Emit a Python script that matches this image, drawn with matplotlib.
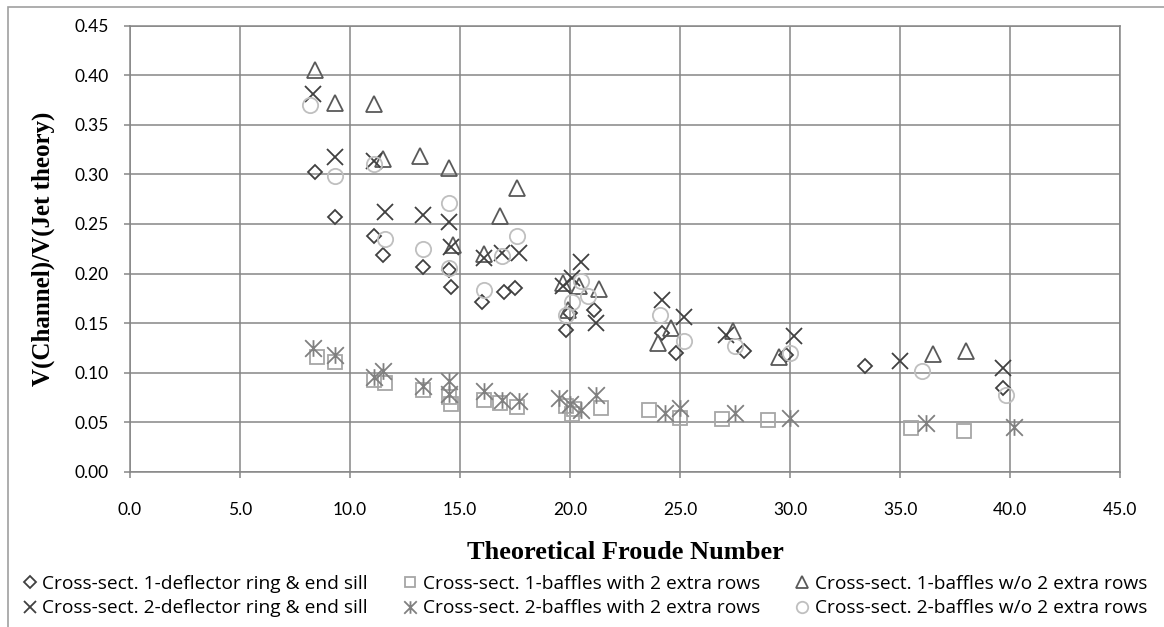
import matplotlib
matplotlib.use("Agg")
import matplotlib.pyplot as plt
from matplotlib.path import Path
from matplotlib.patches import Rectangle

# --------------------------------------------------
# Data
# --------------------------------------------------

cs1_deflector_x = [8.4, 9.3, 11.1, 11.5, 13.3, 14.5, 14.6, 16.0, 17.0, 17.5,
                   19.8, 20.0, 21.1, 24.2, 24.8, 27.9, 29.8, 33.4, 39.7]
cs1_deflector_y = [0.302, 0.257, 0.238, 0.219, 0.207, 0.204, 0.186, 0.171, 0.181, 0.185,
                   0.143, 0.160, 0.163, 0.140, 0.120, 0.122, 0.118, 0.107, 0.084]

cs1_with_x = [8.5, 9.3, 11.1, 11.6, 13.3, 14.5, 14.6, 16.1, 16.8, 17.6,
              19.8, 20.1, 20.2, 21.4, 23.6, 25.0, 26.9, 29.0, 35.5, 37.9]
cs1_with_y = [0.116, 0.111, 0.093, 0.090, 0.082, 0.075, 0.068, 0.072, 0.069, 0.065,
              0.066, 0.058, 0.063, 0.064, 0.062, 0.054, 0.053, 0.052, 0.044, 0.041]

cs1_without_x = [8.4, 9.3, 11.1, 11.5, 13.2, 14.5, 14.7, 16.1, 16.8, 17.6,
                 19.7, 20.4, 21.3, 19.9, 24.0, 24.6, 27.4, 29.5, 36.5, 38.0]
cs1_without_y = [0.405, 0.372, 0.371, 0.316, 0.319, 0.306, 0.229, 0.220, 0.258, 0.286,
                 0.190, 0.187, 0.184, 0.163, 0.130, 0.145, 0.142, 0.116, 0.119, 0.122]

cs2_deflector_x = [8.3, 9.3, 11.1, 11.6, 13.3, 14.5, 14.6, 16.1, 16.9, 17.7,
                   19.7, 20.1, 20.5, 21.2, 24.2, 25.2, 27.1, 30.2, 35.0, 39.7]
cs2_deflector_y = [0.381, 0.318, 0.314, 0.262, 0.259, 0.252, 0.227, 0.216, 0.221, 0.221,
                   0.187, 0.195, 0.212, 0.150, 0.173, 0.156, 0.138, 0.137, 0.112, 0.105]

cs2_with_x = [8.3, 9.3, 11.1, 11.5, 13.3, 14.5, 14.5, 16.1, 16.9, 17.7,
              19.5, 20.0, 20.5, 21.2, 24.3, 25.0, 27.5, 30.0, 36.2, 40.2]
cs2_with_y = [0.125, 0.118, 0.096, 0.102, 0.086, 0.092, 0.078, 0.081, 0.072, 0.071,
              0.074, 0.068, 0.062, 0.077, 0.059, 0.064, 0.059, 0.054, 0.049, 0.045]

cs2_without_x = [8.2, 9.3, 11.1, 11.6, 13.3, 14.5, 14.5, 16.1, 16.9, 17.6,
                 19.8, 20.1, 20.5, 20.8, 24.1, 25.2, 27.5, 30.0, 36.0, 39.8]
cs2_without_y = [0.370, 0.298, 0.311, 0.235, 0.225, 0.271, 0.206, 0.183, 0.218, 0.238,
                 0.158, 0.171, 0.192, 0.177, 0.158, 0.132, 0.127, 0.120, 0.102, 0.077]

x_ticks = [0, 5, 10, 15, 20, 25, 30, 35, 40, 45]
y_ticks = [0.00, 0.05, 0.10, 0.15, 0.20, 0.25, 0.30, 0.35, 0.40, 0.45]

labels = [
    "Cross-sect. 1-deflector ring & end sill",
    "Cross-sect. 1-baffles with 2 extra rows",
    "Cross-sect. 1-baffles w/o 2 extra rows",
    "Cross-sect. 2-deflector ring & end sill",
    "Cross-sect. 2-baffles with 2 extra rows",
    "Cross-sect. 2-baffles w/o 2 extra rows",
]

# Excel style "star" marker: an X with a vertical stroke
star = Path([(-1, -1), (1, 1), (-1, 1), (1, -1), (0, -1), (0, 1)],
            [Path.MOVETO, Path.LINETO, Path.MOVETO, Path.LINETO, Path.MOVETO, Path.LINETO])

# --------------------------------------------------
# Figure
# --------------------------------------------------

fig = plt.figure(figsize=(11.64, 6.27), dpi=100)
ax = fig.add_axes([130 / 1164, 1 - 471.7 / 627, 990 / 1164, 445.9 / 627])

common = dict(linestyle="none", markerfacecolor="none", markeredgewidth=1.3)

h1, = ax.plot(cs1_deflector_x, cs1_deflector_y, marker="D", markersize=7.5,
              markeredgecolor="#404040", label=labels[0], **common)
h2, = ax.plot(cs1_with_x, cs1_with_y, marker="s", markersize=10.5,
              markeredgecolor="#a6a6a6", label=labels[1], **common)
h3, = ax.plot(cs1_without_x, cs1_without_y, marker="^", markersize=11.5,
              markeredgecolor="#595959", label=labels[2], **common)
h4, = ax.plot(cs2_deflector_x, cs2_deflector_y, marker="x", markersize=12,
              markeredgecolor="#404040", label=labels[3], **common)
h5, = ax.plot(cs2_with_x, cs2_with_y, marker=star, markersize=12,
              markeredgecolor="#808080", label=labels[4], **common)
h6, = ax.plot(cs2_without_x, cs2_without_y, marker="o", markersize=11,
              markeredgecolor="#bfbfbf", label=labels[5], **common)

ax.set_xlim(0, 45)
ax.set_ylim(0, 0.45)
ax.set_xticks(x_ticks)
ax.set_xticklabels([f"{v:.1f}" for v in x_ticks])
ax.set_yticks(y_ticks)
ax.set_yticklabels([f"{v:.2f}" for v in y_ticks])

ax.grid(True, color="#868686", linewidth=1.1)
ax.set_axisbelow(True)
for s in ax.spines.values():
    s.set_color("#868686")
    s.set_linewidth(1.1)

ax.tick_params(axis="x", direction="out", length=4.5, width=1.1, color="#868686",
               pad=17, labelsize=12.5)
ax.tick_params(axis="y", direction="out", length=4.5, width=1.1, color="#868686",
               pad=11, labelsize=12.5)
for t in ax.get_xticklabels() + ax.get_yticklabels():
    t.set_fontfamily("Lato")

ax.set_xlabel("Theoretical Froude Number", fontfamily="Liberation Serif",
              fontweight="bold", fontsize=19, labelpad=17)
ax.set_ylabel("V(Channel)/V(Jet theory)", fontfamily="Liberation Serif",
              fontweight="bold", fontsize=18, labelpad=14)

# legend below the x label, two rows of three
fig.legend(handles=[h1, h4, h2, h5, h3, h6], ncol=3, loc="lower left",
           bbox_to_anchor=(0.006, -0.012), frameon=False,
           prop={"family": "Open Sans", "size": 13.8}, handlelength=0.55,
           handletextpad=0.4, columnspacing=1.9, labelspacing=0.35,
           markerscale=0.75)

# chart area border (cut by the image edge on the right and bottom)
fig.patches.append(Rectangle((8 / 1164, -0.05), 1.1, 1 - 7 / 627 + 0.05,
                             transform=fig.transFigure, fill=False,
                             edgecolor="#a0a0a0", linewidth=1.2))

fig.savefig("out.png", dpi=100)
